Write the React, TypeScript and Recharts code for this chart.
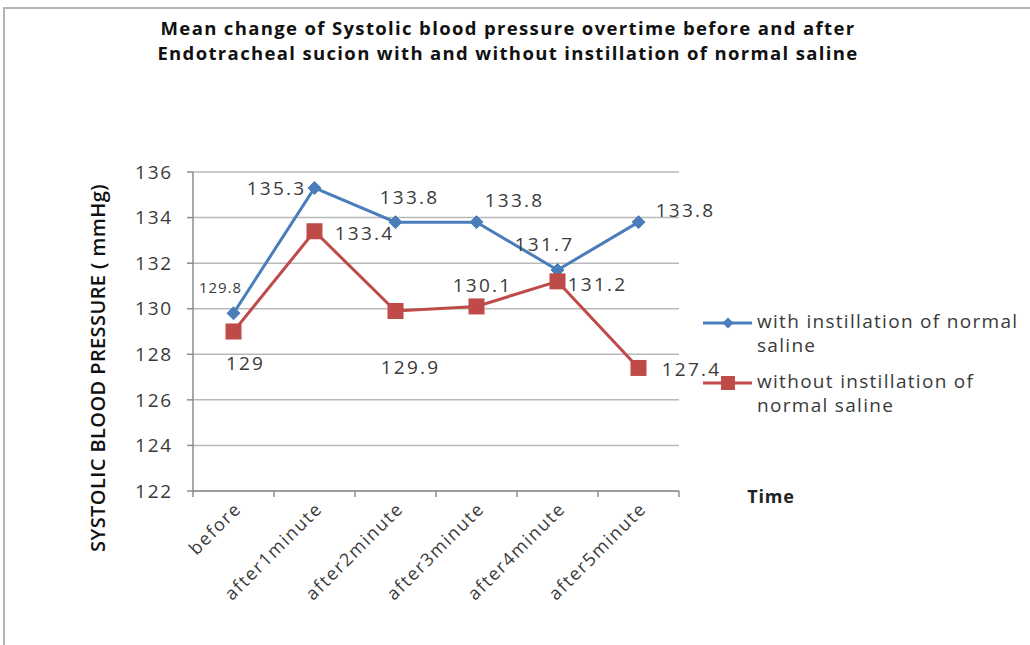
import React from 'react';
import { ComposedChart, Line, XAxis, YAxis, CartesianGrid, Legend, LabelList } from 'recharts';

const categories = ['before', 'after1minute', 'after2minute', 'after3minute', 'after4minute', 'after5minute'];
const withSaline = [129.8, 135.3, 133.8, 133.8, 131.7, 133.8];
const withoutSaline = [129, 133.4, 129.9, 130.1, 131.2, 127.4];
const yTicks = [122, 124, 126, 128, 130, 132, 134, 136];
const seriesNames = ['with instillation of normal saline', 'without instillation of normal saline'];
const legendLines = [['with instillation of normal', 'saline'], ['without instillation of', 'normal saline']];
const titleLines = [
  'Mean change of Systolic blood pressure overtime before and after',
  'Endotracheal sucion with and without instillation of normal saline',
];

const data = categories.map((c, i) => ({ name: c, withSaline: withSaline[i], withoutSaline: withoutSaline[i] }));

// label placement styles (offsets relative to the point)
const blueLabelOffsets = [[-13, -26], [-38, 0], [14, -25], [38, -22], [-13, -26], [47, -12]];
const redLabelOffsets = [[12, 31], [50, 2], [15, 56], [6, -21], [40, 3], [53, 1]];

const BLUE = '#4a7ebb';
const RED = '#be4b48';
const FONT = '"Open Sans", "Noto Sans", sans-serif';

const W = 1030;
const H = 645;
const PLOT_LEFT = 193;
const PLOT_RIGHT = 679;
const PLOT_TOP = 172;
const PLOT_BOTTOM = 491;
const BW = (PLOT_RIGHT - PLOT_LEFT) / categories.length;

const makeLabel = (offsets: number[][], small0: boolean) => (props: any) => {
  const { x, y, value, index } = props;
  const [dx, dy] = offsets[index];
  const small = small0 && index === 0;
  return (
    <text
      x={x + dx}
      y={y + dy}
      textAnchor="middle"
      dominantBaseline="central"
      fontFamily={FONT}
      fontSize={small ? 15 : 19}
      letterSpacing={small ? 1 : 2.2}
      fill="#3a3a3a"
    >
      {value}
    </text>
  );
};

const XTick = (props: any) => {
  const { x, y, payload, index } = props;
  return (
    <g>
      <line x1={x - BW / 2} y1={y} x2={x - BW / 2} y2={y + 6} stroke="#8c8c8c" strokeWidth={1.5} />
      {index === categories.length - 1 && (
        <line x1={x + BW / 2} y1={y} x2={x + BW / 2} y2={y + 6} stroke="#8c8c8c" strokeWidth={1.5} />
      )}
      <text
        x={x + 4}
        y={y + 14}
        textAnchor="end"
        dominantBaseline="central"
        transform={`rotate(-45, ${x + 4}, ${y + 14})`}
        fontFamily={FONT}
        fontSize={18}
        letterSpacing={1.6}
        fill="#3a3a3a"
      >
        {payload.value}
      </text>
    </g>
  );
};

const Diamond = (props: any) => {
  const { cx, cy } = props;
  if (cx == null || cy == null) return null;
  const r = 6.5;
  return <path d={`M${cx},${cy - r}L${cx + r},${cy}L${cx},${cy + r}L${cx - r},${cy}Z`} fill={BLUE} stroke={BLUE} />;
};

const Square = (props: any) => {
  const { cx, cy } = props;
  if (cx == null || cy == null) return null;
  const s = 16;
  return <rect x={cx - s / 2} y={cy - s / 2} width={s} height={s} fill={RED} />;
};

const LegendContent = () => (
  <div style={{ fontFamily: FONT, fontSize: 19, color: '#3a3a3a', letterSpacing: 1.3 }}>
    {[0, 1].map((i) => (
      <div key={i} style={{ position: 'relative', height: 60 }}>
        <svg width={56} height={20} style={{ position: 'absolute', left: 0, top: 3 }}>
          <line x1={3} y1={10} x2={52} y2={10} stroke={i === 0 ? BLUE : RED} strokeWidth={3} />
          {i === 0 ? (
            <path d="M28,4.5L33.5,10L28,15.5L22.5,10Z" fill={BLUE} />
          ) : (
            <rect x={21} y={3} width={14} height={14} fill={RED} />
          )}
        </svg>
        <div style={{ position: 'absolute', left: 57, top: -1, lineHeight: '24px', whiteSpace: 'nowrap' }}>
          <div>{legendLines[i][0]}</div>
          <div>{legendLines[i][1]}</div>
        </div>
      </div>
    ))}
  </div>
);

export default function App() {
  return (
    <div style={{ position: 'fixed', left: 0, top: 0, width: W, height: H, overflow: 'hidden', background: '#fff' }}>
      <div
        style={{
          position: 'absolute',
          left: 3,
          top: 7,
          width: W + 20,
          height: H + 20,
          borderLeft: '2px solid #b4b4b4',
          borderTop: '2px solid #b4b4b4',
        }}
      />
      <div
        style={{
          position: 'absolute',
          left: 0,
          top: 15,
          width: 1016,
          textAlign: 'center',
          fontFamily: FONT,
          fontWeight: 700,
          fontSize: 18.5,
          letterSpacing: 1.35,
          lineHeight: '25px',
          color: '#111',
        }}
      >
        {titleLines.map((t) => (
          <div key={t}>{t}</div>
        ))}
      </div>
      <div style={{ position: 'absolute', left: 0, top: 0 }}>
        <ComposedChart
          width={W}
          height={H}
          data={data}
          margin={{ top: PLOT_TOP, right: W - PLOT_RIGHT, bottom: H - PLOT_BOTTOM - 100, left: PLOT_LEFT - 70 }}
        >
          <CartesianGrid vertical={false} stroke="#b9b9b9" strokeWidth={1.5} />
          <XAxis
            dataKey="name"
            scale="band"
            height={100}
            tickLine={false}
            tickSize={0}
            tickMargin={0}
            interval={0}
            axisLine={{ stroke: '#8c8c8c', strokeWidth: 1.5 }}
            tick={<XTick />}
            label={{
              content: () => (
                <text x={771} y={496} textAnchor="middle" dominantBaseline="central" fontFamily={FONT} fontWeight={700} fontSize={18} letterSpacing={0.8} fill="#222">
                  Time
                </text>
              ),
            }}
          />
          <YAxis
            width={70}
            domain={[122, 136]}
            ticks={yTicks}
            interval={0}
            tickSize={6}
            tickMargin={14}
            axisLine={{ stroke: '#8c8c8c', strokeWidth: 1.5 }}
            tickLine={{ stroke: '#8c8c8c', strokeWidth: 1.5 }}
            tick={{ fontFamily: FONT, fontSize: 19, fill: '#3a3a3a', letterSpacing: 1.8 }}
            label={{
              content: () => (
                <text
                  x={97}
                  y={368}
                  textAnchor="middle"
                  dominantBaseline="central"
                  transform="rotate(-90, 97, 368)"
                  fontFamily={FONT}
                  fontWeight={600}
                  fontSize={20}
                  letterSpacing={0.4}
                  fill="#111"
                >
                  SYSTOLIC BLOOD PRESSURE ( mmHg)
                </text>
              ),
            }}
          />
          <Legend
            layout="horizontal"
            verticalAlign="middle"
            align="center"
            wrapperStyle={{ left: 700, top: 310, width: 330, height: 130 }}
            content={<LegendContent />}
          />
          <Line
            name={seriesNames[0]}
            dataKey="withSaline"
            stroke={BLUE}
            strokeWidth={3}
            dot={<Diamond />}
            activeDot={false}
            isAnimationActive={false}
          >
            <LabelList dataKey="withSaline" content={makeLabel(blueLabelOffsets, true)} />
          </Line>
          <Line
            name={seriesNames[1]}
            dataKey="withoutSaline"
            stroke={RED}
            strokeWidth={3}
            dot={<Square />}
            activeDot={false}
            isAnimationActive={false}
          >
            <LabelList dataKey="withoutSaline" content={makeLabel(redLabelOffsets, false)} />
          </Line>
        </ComposedChart>
      </div>
    </div>
  );
}
